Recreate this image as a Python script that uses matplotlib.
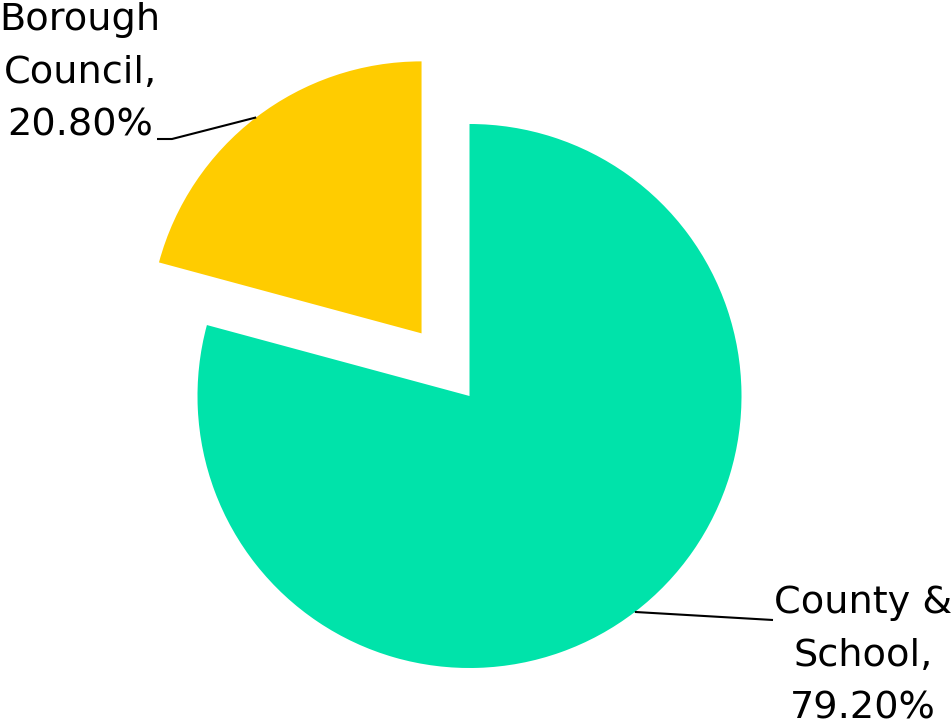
import numpy as np
import matplotlib
matplotlib.use('Agg')
import matplotlib.pyplot as plt

labels = ['County &\nSchool,\n79.20%', 'Borough\nCouncil,\n20.80%']
shares = [79.20, 20.80]
colors = ['#00E3AA', '#FFCC00']
explode = [0, 0.29]

fig = plt.figure(figsize=(9.52, 7.28), dpi=100)
ax = fig.add_axes([0, 0, 1, 1])
wedges, _ = ax.pie(shares, colors=colors, explode=explode, startangle=90,
                   counterclock=False, radius=1.0,
                   wedgeprops=dict(linewidth=0))

# 1 data unit = 272 px, pie centre at (469.5, 396) px from top-left
s = 272.0
cx, cy = 469.5, 396.0
ax.set_xlim(-cx / s, (952 - cx) / s)
ax.set_ylim(-(728 - cy) / s, cy / s)
ax.set_aspect('equal')
ax.axis('off')

def px(x, y):
    return (x - cx) / s, (cy - y) / s

# leader line anchors (elbow / end) and label centres, in pixels
leaders = [
    [px(773, 620)],
    [px(172, 139), px(157, 139)],
]
text_pos = [px(863, 585), px(80, 2)]

for w, ex, pts, tp, lab in zip(wedges, explode, leaders, text_pos, labels):
    mid = np.deg2rad((w.theta1 + w.theta2) / 2)
    ox, oy = ex * np.cos(mid), ex * np.sin(mid)
    start = (ox + np.cos(mid), oy + np.sin(mid))
    xs = [start[0]] + [p[0] for p in pts]
    ys = [start[1]] + [p[1] for p in pts]
    ax.plot(xs, ys, color='black', lw=1.5, solid_capstyle='butt')
    ax.text(tp[0], tp[1], lab, ha='center', va='top', fontsize=27.5,
            linespacing=1.6, color='black')

plt.savefig('out.png', dpi=100)
plt.close()
